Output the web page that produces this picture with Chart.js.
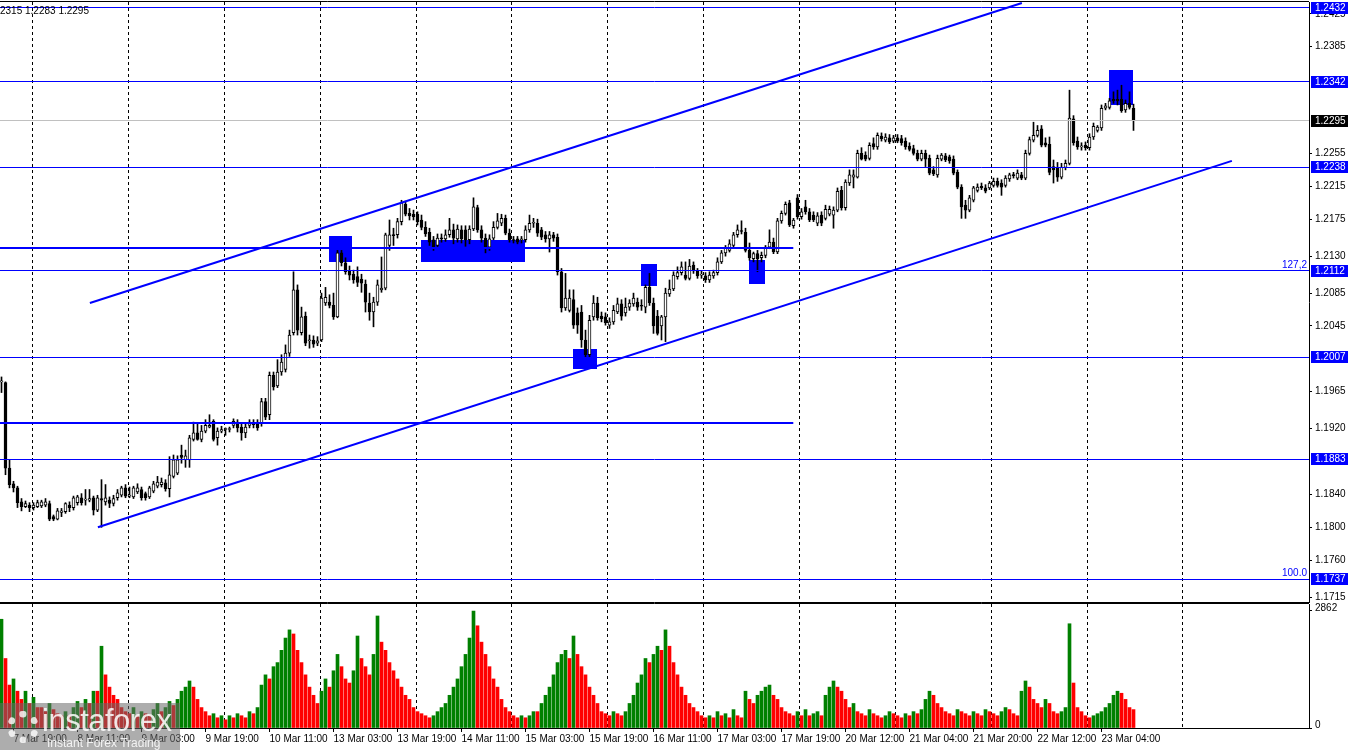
<!DOCTYPE html>
<html>
<head>
<meta charset="utf-8">
<title>GBPUSD H1</title>
<script src="https://cdn.jsdelivr.net/npm/chart.js@4.4.1/dist/chart.umd.min.js"></script>
<style>
  html, body { margin: 0; padding: 0; background: #fff; }
  #stage { position: relative; width: 1350px; height: 750px; overflow: hidden; font-family: 'Liberation Sans', Arial, sans-serif; }
  #priceCanvas { position: absolute; left: 0; top: 0; }
  #volCanvas { position: absolute; left: 0; top: 603px; }
  #quote { position: absolute; left: 0; top: 5px; font-size: 10px; color: #000; line-height: 11px; }
  #brand { position: absolute; left: 0; top: 703px; width: 180px; height: 47px; background: rgba(105, 105, 105, 0.55); color: rgba(255, 255, 255, 0.85); }
  #brand .gear { position: absolute; left: 7px; top: 8px; width: 18px; height: 18px; border: 7px dotted rgba(255, 255, 255, 0.8); border-radius: 50%; }
  #brand .name { position: absolute; left: 42px; top: 0px; font-size: 31px; letter-spacing: -0.5px; }
  #brand .tag { position: absolute; left: 47px; top: 33px; font-size: 12px; }
</style>
</head>
<body>
<div id="stage">
  <canvas id="priceCanvas" width="1350" height="603"></canvas>
  <canvas id="volCanvas" width="1350" height="147"></canvas>
  <div id="quote">2315 1.2283 1.2295</div>
  <div id="brand"><div class="gear"></div><div class="name">instaforex</div><div class="tag">Instant Forex Trading</div></div>
</div>
<script>
// --- DATA (hourly bars, left to right) ---
const open = [
  1.1977,1.1976,1.1872,1.1853,1.1848,1.1831,1.1825,1.1827,1.1824,1.1825,
  1.1826,1.1827,1.1829,1.1813,1.1810,1.1818,1.1819,1.1827,1.1824,1.1830,
  1.1836,1.1833,1.1833,1.1836,1.1821,1.1835,1.1831,1.1833,1.1829,1.1836,
  1.1839,1.1848,1.1838,1.1837,1.1843,1.1846,1.1841,1.1837,1.1844,1.1850,
  1.1852,1.1854,1.1847,1.1862,1.1866,1.1888,1.1882,1.1882,1.1907,1.1915,
  1.1907,1.1917,1.1922,1.1929,1.1909,1.1917,1.1919,1.1919,1.1924,1.1928,
  1.1922,1.1915,1.1924,1.1926,1.1927,1.1926,1.1953,1.1937,1.1985,1.1972,
  1.1989,1.1992,1.2012,1.2037,1.2089,1.2037,1.2057,1.2027,1.2028,1.2024,
  1.2028,1.2073,1.2074,1.2070,1.2056,1.2134,1.2122,1.2112,1.2108,1.2105,
  1.2102,1.2096,1.2073,1.2062,1.2074,1.2089,1.2091,1.2143,1.2156,1.2156,
  1.2172,1.2193,1.2182,1.2181,1.2181,1.2174,1.2165,1.2159,1.2150,1.2143,
  1.2152,1.2151,1.2156,1.2162,1.2151,1.2162,1.2162,1.2150,1.2163,1.2189,
  1.2162,1.2152,1.2141,1.2152,1.2165,1.2170,1.2176,1.2158,1.2150,1.2151,
  1.2150,1.2150,1.2162,1.2170,1.2170,1.2162,1.2156,1.2151,1.2156,1.2153,
  1.2111,1.2067,1.2064,1.2077,1.2061,1.2062,1.2028,1.2010,1.2056,1.2073,
  1.2057,1.2056,1.2046,1.2050,1.2062,1.2072,1.2061,1.2068,1.2072,1.2074,
  1.2070,1.2068,1.2092,1.2073,1.2057,1.2045,1.2056,1.2084,1.2090,1.2105,
  1.2110,1.2107,1.2103,1.2119,1.2112,1.2107,1.2106,1.2101,1.2106,1.2110,
  1.2123,1.2134,1.2137,1.2143,1.2156,1.2161,1.2159,1.2137,1.2127,1.2133,
  1.2128,1.2131,1.2141,1.2147,1.2135,1.2173,1.2182,1.2195,1.2167,1.2201,
  1.2178,1.2190,1.2184,1.2180,1.2170,1.2180,1.2176,1.2181,1.2180,1.2186,
  1.2210,1.2189,1.2219,1.2226,1.2226,1.2255,1.2253,1.2249,1.2267,1.2263,
  1.2276,1.2271,1.2274,1.2270,1.2274,1.2273,1.2270,1.2264,1.2261,1.2255,
  1.2248,1.2255,1.2249,1.2235,1.2229,1.2248,1.2252,1.2251,1.2248,1.2232,
  1.2214,1.2192,1.2186,1.2198,1.2210,1.2215,1.2213,1.2213,1.2216,1.2221,
  1.2219,1.2216,1.2224,1.2229,1.2225,1.2229,1.2225,1.2255,1.2271,1.2277,
  1.2285,1.2268,1.2266,1.2239,1.2238,1.2226,1.2238,1.2243,1.2297,1.2270,
  1.2263,1.2265,1.2262,1.2275,1.2283,1.2286,1.2310,1.2311,1.2321,1.2321,
  1.2321,1.2308,1.2316,1.2310
];
const high = [
  1.1983,1.1977,1.1882,1.1856,1.1850,1.1835,1.1832,1.1830,1.1830,1.1833,
  1.1833,1.1835,1.1832,1.1815,1.1823,1.1823,1.1830,1.1831,1.1838,1.1839,
  1.1841,1.1846,1.1846,1.1838,1.1839,1.1858,1.1852,1.1837,1.1839,1.1846,
  1.1850,1.1852,1.1849,1.1850,1.1853,1.1849,1.1843,1.1850,1.1856,1.1862,
  1.1860,1.1858,1.1886,1.1888,1.1887,1.1900,1.1894,1.1912,1.1928,1.1926,
  1.1924,1.1931,1.1937,1.1931,1.1921,1.1923,1.1921,1.1922,1.1932,1.1931,
  1.1926,1.1926,1.1931,1.1931,1.1931,1.1957,1.1957,1.1989,1.1989,1.2004,
  1.2010,1.2022,1.2040,1.2111,1.2095,1.2068,1.2062,1.2034,1.2033,1.2032,
  1.2085,1.2092,1.2083,1.2085,1.2137,1.2137,1.2128,1.2118,1.2113,1.2117,
  1.2108,1.2101,1.2085,1.2080,1.2101,1.2129,1.2158,1.2174,1.2164,1.2176,
  1.2198,1.2197,1.2188,1.2186,1.2184,1.2180,1.2172,1.2164,1.2154,1.2157,
  1.2157,1.2162,1.2176,1.2169,1.2168,1.2167,1.2167,1.2167,1.2201,1.2192,
  1.2167,1.2157,1.2156,1.2172,1.2182,1.2181,1.2180,1.2163,1.2154,1.2154,
  1.2154,1.2167,1.2180,1.2176,1.2175,1.2165,1.2160,1.2160,1.2159,1.2157,
  1.2115,1.2109,1.2089,1.2089,1.2067,1.2070,1.2040,1.2058,1.2082,1.2080,
  1.2062,1.2061,1.2055,1.2070,1.2079,1.2077,1.2079,1.2077,1.2085,1.2079,
  1.2077,1.2095,1.2109,1.2079,1.2064,1.2058,1.2091,1.2101,1.2111,1.2117,
  1.2123,1.2123,1.2126,1.2123,1.2115,1.2112,1.2110,1.2111,1.2113,1.2128,
  1.2137,1.2143,1.2150,1.2159,1.2168,1.2173,1.2164,1.2146,1.2135,1.2137,
  1.2135,1.2143,1.2162,1.2152,1.2176,1.2185,1.2196,1.2198,1.2176,1.2205,
  1.2188,1.2198,1.2188,1.2184,1.2183,1.2184,1.2192,1.2191,1.2190,1.2213,
  1.2215,1.2223,1.2235,1.2235,1.2259,1.2262,1.2257,1.2268,1.2274,1.2280,
  1.2280,1.2279,1.2278,1.2277,1.2278,1.2277,1.2274,1.2268,1.2265,1.2259,
  1.2259,1.2259,1.2253,1.2239,1.2253,1.2255,1.2255,1.2253,1.2252,1.2235,
  1.2217,1.2198,1.2204,1.2215,1.2218,1.2219,1.2217,1.2221,1.2225,1.2225,
  1.2223,1.2228,1.2231,1.2232,1.2235,1.2232,1.2259,1.2275,1.2293,1.2289,
  1.2289,1.2274,1.2275,1.2247,1.2244,1.2243,1.2247,1.2332,1.2301,1.2275,
  1.2268,1.2269,1.2279,1.2292,1.2289,1.2314,1.2316,1.2322,1.2330,1.2332,
  1.2338,1.2320,1.2330,1.2315
];
const low = [
  1.1964,1.1864,1.1848,1.1843,1.1824,1.1820,1.1824,1.1819,1.1821,1.1824,
  1.1824,1.1825,1.1808,1.1808,1.1809,1.1813,1.1817,1.1819,1.1821,1.1827,
  1.1827,1.1827,1.1831,1.1815,1.1819,1.1800,1.1827,1.1824,1.1826,1.1833,
  1.1837,1.1836,1.1836,1.1835,1.1841,1.1833,1.1833,1.1835,1.1842,1.1848,
  1.1849,1.1844,1.1837,1.1860,1.1864,1.1878,1.1873,1.1873,1.1905,1.1906,
  1.1904,1.1915,1.1921,1.1905,1.1900,1.1915,1.1912,1.1916,1.1921,1.1916,
  1.1906,1.1909,1.1921,1.1921,1.1918,1.1923,1.1931,1.1931,1.1967,1.1970,
  1.1985,1.1989,1.2008,1.2034,1.2034,1.2034,1.2021,1.2018,1.2019,1.2021,
  1.2026,1.2070,1.2067,1.2053,1.2055,1.2118,1.2108,1.2101,1.2097,1.2093,
  1.2086,1.2062,1.2052,1.2044,1.2070,1.2086,1.2089,1.2137,1.2143,1.2152,
  1.2168,1.2179,1.2174,1.2174,1.2168,1.2162,1.2154,1.2143,1.2137,1.2140,
  1.2147,1.2148,1.2153,1.2145,1.2147,1.2146,1.2142,1.2145,1.2161,1.2159,
  1.2147,1.2134,1.2137,1.2150,1.2163,1.2167,1.2156,1.2147,1.2146,1.2145,
  1.2146,1.2147,1.2159,1.2165,1.2154,1.2150,1.2147,1.2135,1.2148,1.2107,
  1.2062,1.2064,1.2062,1.2042,1.2036,1.2019,1.2007,1.2007,1.2052,1.2052,
  1.2050,1.2046,1.2042,1.2047,1.2060,1.2052,1.2057,1.2064,1.2069,1.2064,
  1.2064,1.2061,1.2070,1.2036,1.2034,1.2028,1.2026,1.2081,1.2088,1.2102,
  1.2107,1.2101,1.2101,1.2109,1.2103,1.2103,1.2098,1.2098,1.2103,1.2107,
  1.2121,1.2130,1.2135,1.2141,1.2153,1.2157,1.2135,1.2125,1.2123,1.2111,
  1.2123,1.2128,1.2139,1.2133,1.2133,1.2170,1.2180,1.2166,1.2164,1.2175,
  1.2175,1.2181,1.2172,1.2172,1.2167,1.2167,1.2174,1.2179,1.2164,1.2184,
  1.2186,1.2186,1.2216,1.2213,1.2225,1.2247,1.2246,1.2247,1.2260,1.2260,
  1.2270,1.2269,1.2267,1.2268,1.2268,1.2265,1.2260,1.2258,1.2253,1.2246,
  1.2246,1.2239,1.2229,1.2228,1.2226,1.2246,1.2245,1.2243,1.2229,1.2212,
  1.2176,1.2176,1.2184,1.2196,1.2208,1.2211,1.2207,1.2211,1.2214,1.2214,
  1.2204,1.2214,1.2221,1.2225,1.2223,1.2223,1.2223,1.2253,1.2269,1.2275,
  1.2263,1.2263,1.2229,1.2219,1.2221,1.2224,1.2235,1.2241,1.2265,1.2260,
  1.2259,1.2259,1.2259,1.2272,1.2281,1.2283,1.2308,1.2309,1.2316,1.2314,
  1.2305,1.2305,1.2309,1.2283
];
const close = [
  1.1978,1.1872,1.1852,1.1848,1.1830,1.1825,1.1829,1.1824,1.1827,1.1830,
  1.1831,1.1831,1.1810,1.1810,1.1820,1.1820,1.1829,1.1824,1.1836,1.1837,
  1.1830,1.1834,1.1835,1.1821,1.1836,1.1833,1.1836,1.1829,1.1835,1.1842,
  1.1848,1.1838,1.1839,1.1848,1.1848,1.1836,1.1836,1.1848,1.1853,1.1855,
  1.1855,1.1847,1.1864,1.1882,1.1882,1.1885,1.1887,1.1909,1.1915,1.1907,
  1.1917,1.1924,1.1924,1.1907,1.1917,1.1919,1.1920,1.1920,1.1929,1.1921,
  1.1915,1.1922,1.1928,1.1925,1.1921,1.1953,1.1934,1.1985,1.1971,1.1989,
  1.2001,1.2012,1.2034,1.2089,1.2040,1.2056,1.2024,1.2028,1.2023,1.2027,
  1.2079,1.2080,1.2070,1.2056,1.2134,1.2122,1.2111,1.2107,1.2101,1.2098,
  1.2097,1.2074,1.2062,1.2074,1.2095,1.2091,1.2156,1.2156,1.2155,1.2172,
  1.2195,1.2181,1.2179,1.2178,1.2172,1.2165,1.2157,1.2147,1.2141,1.2152,
  1.2151,1.2156,1.2162,1.2152,1.2163,1.2151,1.2150,1.2163,1.2190,1.2162,
  1.2152,1.2141,1.2151,1.2165,1.2173,1.2176,1.2158,1.2150,1.2149,1.2147,
  1.2151,1.2162,1.2170,1.2171,1.2158,1.2153,1.2151,1.2156,1.2152,1.2111,
  1.2067,1.2079,1.2079,1.2046,1.2046,1.2028,1.2010,1.2052,1.2073,1.2055,
  1.2054,1.2049,1.2050,1.2064,1.2072,1.2057,1.2068,1.2073,1.2079,1.2068,
  1.2069,1.2092,1.2073,1.2045,1.2036,1.2056,1.2085,1.2090,1.2107,1.2110,
  1.2117,1.2103,1.2118,1.2112,1.2106,1.2108,1.2101,1.2107,1.2110,1.2123,
  1.2134,1.2140,1.2145,1.2156,1.2162,1.2160,1.2137,1.2128,1.2133,1.2127,
  1.2131,1.2141,1.2147,1.2135,1.2173,1.2182,1.2193,1.2168,1.2174,1.2178,
  1.2184,1.2184,1.2174,1.2174,1.2179,1.2170,1.2187,1.2187,1.2186,1.2209,
  1.2189,1.2220,1.2229,1.2229,1.2255,1.2248,1.2248,1.2265,1.2263,1.2277,
  1.2273,1.2275,1.2269,1.2274,1.2270,1.2268,1.2263,1.2260,1.2255,1.2248,
  1.2255,1.2248,1.2231,1.2230,1.2249,1.2253,1.2247,1.2246,1.2231,1.2214,
  1.2190,1.2186,1.2201,1.2213,1.2214,1.2213,1.2209,1.2219,1.2221,1.2216,
  1.2214,1.2225,1.2229,1.2228,1.2231,1.2225,1.2255,1.2272,1.2277,1.2283,
  1.2265,1.2265,1.2232,1.2235,1.2226,1.2238,1.2243,1.2298,1.2268,1.2263,
  1.2264,1.2262,1.2275,1.2288,1.2287,1.2310,1.2313,1.2319,1.2319,1.2319,
  1.2307,1.2316,1.2311,1.2295
];
const volume = [
  2660,1700,1050,1200,900,700,900,600,750,500,
  500,400,600,450,350,300,400,300,500,650,
  500,700,600,900,900,2000,1300,1000,800,700,
  500,400,350,500,300,400,350,300,450,600,
  400,500,650,550,700,900,1000,1150,1000,700,
  500,400,300,350,250,300,200,300,250,350,
  300,250,400,350,500,1050,1300,1200,1500,1600,
  1900,2200,2400,2300,1900,1600,1300,1000,800,600,
  900,1200,1000,1400,1800,1500,1200,1100,1400,2250,
  1700,1500,1300,1800,2740,2100,1900,1600,1400,1200,
  1000,800,700,500,400,350,300,250,300,400,
  500,600,800,1000,1200,1500,1800,2200,2860,2500,
  2100,1800,1500,1200,1000,700,500,400,300,250,
  300,250,300,400,400,600,800,1000,1300,1600,
  1800,1900,1700,2250,1800,1500,1300,1000,800,600,
  400,350,300,400,350,300,400,600,800,1100,
  1300,1700,1600,1800,2000,1900,2400,2000,1600,1300,
  1000,800,600,500,400,300,250,300,250,400,
  300,350,250,450,300,250,900,700,600,800,
  900,1000,1050,800,700,500,400,350,300,400,
  300,450,300,350,400,300,800,1000,1150,1000,
  900,700,500,600,400,350,300,450,350,300,
  250,300,400,350,300,250,350,300,400,350,
  450,700,900,800,600,500,400,350,300,450,
  400,350,300,400,350,300,450,400,350,300,
  400,500,450,350,300,900,1150,1000,700,600,
  500,700,600,400,350,400,500,2550,1100,500,
  400,300,250,300,350,400,500,600,800,900,
  850,700,500,450
];

// axis ticks
const priceTicks = [1.2425, 1.2385, 1.2255, 1.2215, 1.2175, 1.2130, 1.2085, 1.2045, 1.1965, 1.1920, 1.1840, 1.1800, 1.1760, 1.1715];
const volumeTicks = [0, 2862];
const timeLabels = ['7 Mar 19:00', '8 Mar 11:00', '9 Mar 03:00', '9 Mar 19:00', '10 Mar 11:00', '13 Mar 03:00',
  '13 Mar 19:00', '14 Mar 11:00', '15 Mar 03:00', '15 Mar 19:00', '16 Mar 11:00', '17 Mar 03:00',
  '17 Mar 19:00', '20 Mar 12:00', '21 Mar 04:00', '21 Mar 20:00', '22 Mar 12:00', '23 Mar 04:00'];
const timeLabelBars = [3, 19, 35, 51, 67, 83, 99, 115, 131, 147, 163, 179, 195, 211, 227, 243, 259, 275];
const gridBars = [7.8, 31.8, 55.8, 79.8, 103.8, 127.6, 151.6, 175.6, 199.6, 223.6, 247.6, 271.6, 295.3];

// chart objects (bar index / price)
const levelPrices = [1.2432, 1.2342, 1.2238, 1.2112, 1.2007, 1.1883, 1.1737];
const lastPrice = 1.2295;
const shortLevels = [1.2140, 1.1927];
const shortLevelEnd = 197.95;
const channelTop = [[22.1, 1.2073], [255.1, 1.2438]];
const channelBottom = [[24.1, 1.1800], [307.6, 1.2246]];
const zoneFrom = [81.95, 104.9, 142.8, 159.9, 186.9, 276.95];
const zoneTo = [87.8, 130.9, 148.8, 163.9, 190.9, 282.95];
const zoneTop = [1.2154, 1.2150, 1.2017, 1.2120, 1.2125, 1.2356];
const zoneBottom = [1.2122, 1.2123, 1.1993, 1.2093, 1.2096, 1.2313];
const fiboTags = [[1.2112, '127,2'], [1.1737, '100.0']];

// --- SETUP ---
const BLUE = '#0000ff';
const xMin = -0.375, xMax = 326.875;
const idx = close.map((_, i) => i);
const fontName = "'Liberation Sans', Arial, sans-serif";

function gridAxis() {
  return {
    type: 'linear', min: xMin, max: xMax, offset: false, weight: 0,
    afterBuildTicks: s => { s.ticks = gridBars.map(v => ({ value: v })); },
    afterFit: s => { s.height = 0; s.paddingLeft = 0; s.paddingRight = 0; },
    ticks: { display: false },
    grid: { color: '#000', lineWidth: 1, drawTicks: false, offset: false },
    border: { display: false, dash: [3, 3] }
  };
}

function crisp(v) { return Math.round(v - 0.5) + 0.5; }

const priceOverlay = {
  id: 'priceOverlay',
  beforeDatasetsDraw(chart) {
    const { ctx, chartArea: a, scales: { x, y } } = chart;
    ctx.save();
    ctx.beginPath(); ctx.rect(a.left, a.top, a.width, a.height); ctx.clip();
    ctx.fillStyle = BLUE;
    zoneFrom.forEach((f, k) => {
      const x0 = x.getPixelForValue(f), x1 = x.getPixelForValue(zoneTo[k]);
      const y0 = y.getPixelForValue(zoneTop[k]), y1 = y.getPixelForValue(zoneBottom[k]);
      ctx.fillRect(Math.round(x0), Math.round(y0), Math.round(x1 - x0), Math.round(y1 - y0));
    });
    ctx.restore();
  },
  afterDatasetsDraw(chart) {
    const { ctx, chartArea: a, scales: { x, y } } = chart;
    ctx.save();
    ctx.beginPath(); ctx.rect(a.left, a.top, a.width, a.height); ctx.clip();

    // horizontal levels
    ctx.lineWidth = 1;
    ctx.strokeStyle = '#c0c0c0';
    const py = crisp(y.getPixelForValue(lastPrice));
    ctx.beginPath(); ctx.moveTo(a.left, py); ctx.lineTo(a.right, py); ctx.stroke();
    ctx.strokeStyle = BLUE;
    levelPrices.forEach(v => {
      const yy = crisp(y.getPixelForValue(v));
      ctx.beginPath(); ctx.moveTo(a.left, yy); ctx.lineTo(a.right, yy); ctx.stroke();
    });

    // short thick levels
    ctx.lineWidth = 2;
    shortLevels.forEach(v => {
      const yy = Math.round(y.getPixelForValue(v));
      ctx.beginPath(); ctx.moveTo(a.left, yy); ctx.lineTo(x.getPixelForValue(shortLevelEnd), yy); ctx.stroke();
    });

    // channel
    [channelTop, channelBottom].forEach(seg => {
      ctx.beginPath();
      ctx.moveTo(x.getPixelForValue(seg[0][0]), y.getPixelForValue(seg[0][1]));
      ctx.lineTo(x.getPixelForValue(seg[1][0]), y.getPixelForValue(seg[1][1]));
      ctx.stroke();
    });

    // fibo tags
    ctx.fillStyle = BLUE;
    ctx.font = '10px ' + fontName;
    ctx.textAlign = 'right';
    ctx.textBaseline = 'bottom';
    fiboTags.forEach(t => ctx.fillText(t[1], a.right - 2, y.getPixelForValue(t[0]) - 1));
    ctx.restore();

    // frame
    ctx.save();
    ctx.strokeStyle = '#000'; ctx.lineWidth = 1;
    ctx.beginPath();
    ctx.moveTo(a.left, a.top - 0.5); ctx.lineTo(a.right, a.top - 0.5);
    ctx.moveTo(a.left, a.bottom + 0.5); ctx.lineTo(a.right, a.bottom + 0.5);
    ctx.stroke();
    ctx.restore();
  },
  afterDraw(chart) {
    const { ctx, chartArea: a, scales: { y } } = chart;
    ctx.save();
    ctx.font = '10px ' + fontName;
    ctx.textAlign = 'left';
    ctx.textBaseline = 'middle';
    const tag = (v, bg) => {
      const yy = Math.round(y.getPixelForValue(v));
      ctx.fillStyle = bg;
      ctx.fillRect(a.right + 2, yy - 6, 37, 12);
      ctx.fillStyle = '#fff';
      ctx.fillText(v.toFixed(4), a.right + 6, yy);
    };
    levelPrices.forEach(v => tag(v, BLUE));
    tag(lastPrice, '#000');
    ctx.restore();
  }
};

const volumeFrame = {
  id: 'volumeFrame',
  afterDatasetsDraw(chart) {
    const { ctx, chartArea: a } = chart;
    ctx.save();
    ctx.strokeStyle = '#000'; ctx.lineWidth = 1;
    ctx.beginPath(); ctx.moveTo(a.left, a.top - 0.5); ctx.lineTo(a.right, a.top - 0.5); ctx.stroke();
    ctx.restore();
  }
};

// --- PRICE CHART ---
new Chart(document.getElementById('priceCanvas'), {
  type: 'bar',
  data: {
    datasets: [
      {
        label: 'body',
        data: idx.map(i => ({ x: i, y: [open[i], close[i]] })),
        backgroundColor: idx.map(i => close[i] >= open[i] ? '#ffffff' : '#000000'),
        borderColor: '#000',
        borderWidth: 1,
        borderSkipped: false,
        barThickness: 3,
        minBarLength: 1,
        grouped: false,
        order: 0
      },
      {
        label: 'wick',
        data: idx.map(i => ({ x: i, y: [low[i], high[i]] })),
        backgroundColor: '#000',
        borderWidth: 0,
        barThickness: 1,
        grouped: false,
        order: 1
      }
    ]
  },
  options: {
    responsive: false,
    animation: false,
    events: [],
    layout: { padding: { top: 2, bottom: 1, left: 0, right: 0 }, autoPadding: false },
    plugins: { legend: { display: false }, tooltip: { enabled: false } },
    scales: {
      x: gridAxis(),
      y: {
        position: 'right',
        min: 1.17091,
        max: 1.24393,
        afterBuildTicks: s => { s.ticks = priceTicks.map(v => ({ value: v })); },
        afterFit: s => { s.width = 41; s.paddingTop = 0; s.paddingBottom = 0; },
        ticks: { color: '#000', padding: 3, font: { family: fontName, size: 10 }, callback: v => v.toFixed(4) },
        grid: { drawOnChartArea: false, drawTicks: true, tickLength: 3, color: '#000' },
        border: { display: true, color: '#000' }
      }
    }
  },
  plugins: [priceOverlay]
});

// --- VOLUME CHART ---
new Chart(document.getElementById('volCanvas'), {
  type: 'bar',
  data: {
    datasets: [{
      label: 'volume',
      data: idx.map(i => ({ x: i, y: volume[i] })),
      backgroundColor: idx.map(i => (i === 0 || volume[i] > volume[i - 1]) ? '#008000' : '#ff0000'),
      borderWidth: 0,
      barThickness: 3,
      grouped: false
    }]
  },
  options: {
    responsive: false,
    animation: false,
    events: [],
    layout: { padding: { top: 1, bottom: 0, left: 0, right: 0 }, autoPadding: false },
    plugins: { legend: { display: false }, tooltip: { enabled: false } },
    scales: {
      x: gridAxis(),
      x2: {
        type: 'linear', position: 'bottom', min: xMin, max: xMax, offset: false, weight: 1,
        afterBuildTicks: s => { s.ticks = timeLabelBars.map(v => ({ value: v })); },
        afterFit: s => { s.height = 22; s.paddingLeft = 0; s.paddingRight = 0; },
        ticks: {
          autoSkip: false, maxRotation: 0, align: 'start', padding: 1, color: '#000',
          font: { family: fontName, size: 10 },
          callback: (v, i) => timeLabels[i]
        },
        grid: { drawOnChartArea: false, drawTicks: true, tickLength: 4, color: '#000', offset: false },
        border: { display: true, color: '#000' }
      },
      y: {
        position: 'right',
        min: 0,
        max: 3033,
        afterBuildTicks: s => { s.ticks = volumeTicks.map(v => ({ value: v })); },
        afterFit: s => { s.width = 41; s.paddingTop = 0; s.paddingBottom = 0; },
        ticks: { color: '#000', padding: 3, labelOffset: -3, font: { family: fontName, size: 10 }, callback: v => String(v) },
        grid: { drawOnChartArea: false, drawTicks: true, tickLength: 3, color: '#000' },
        border: { display: true, color: '#000' }
      }
    }
  },
  plugins: [volumeFrame]
});
</script>
</body>
</html>
